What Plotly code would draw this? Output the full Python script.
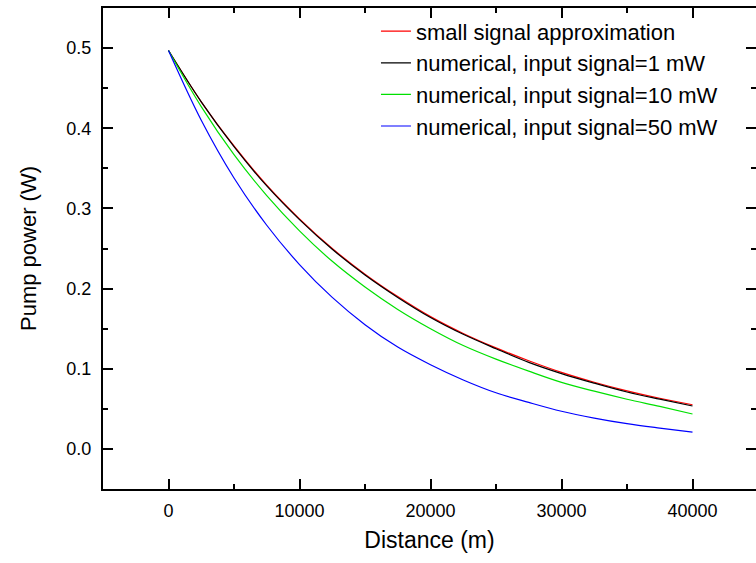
import plotly.graph_objects as go

distance_m = [0, 2500, 5000, 7500, 10000, 12500, 15000, 17500, 20000,
              22500, 25000, 27500, 30000, 32500, 35000, 37500, 40000]
small_signal = [0.497, 0.433, 0.378, 0.329, 0.287, 0.250, 0.218, 0.190, 0.165,
                0.144, 0.126, 0.110, 0.0955, 0.0832, 0.0725, 0.0632, 0.0551]
num_1mW = [0.497, 0.433, 0.377, 0.328, 0.286, 0.249, 0.217, 0.189, 0.164,
           0.143, 0.125, 0.108, 0.094, 0.082, 0.071, 0.062, 0.0535]
num_10mW = [0.497, 0.427, 0.367, 0.316, 0.272, 0.234, 0.202, 0.174, 0.150,
            0.129, 0.112, 0.097, 0.083, 0.072, 0.062, 0.053, 0.0436]
num_50mW = [0.497, 0.410, 0.338, 0.279, 0.230, 0.189, 0.155, 0.127, 0.105,
            0.086, 0.070, 0.058, 0.047, 0.0385, 0.0315, 0.026, 0.021]

names = ["small signal approximation", "numerical, input signal=1 mW",
         "numerical, input signal=10 mW", "numerical, input signal=50 mW"]
series = [small_signal, num_1mW, num_10mW, num_50mW]
colors = ["#FF0000", "#000000", "#00E000", "#0000FF"]

FONT = "Liberation Sans, Arial, sans-serif"

fig = go.Figure()
for nm, ys, c in zip(names, series, colors):
    fig.add_trace(go.Scatter(x=distance_m, y=ys, mode="lines", name=nm,
                             line=dict(color=c, width=1.2, shape="spline")))
# dummy trace for the right-hand tick axis
fig.add_trace(go.Scatter(x=[None], y=[None], yaxis="y2", showlegend=False,
                         hoverinfo="skip"))

axis_common = dict(ticks="inside", ticklen=10, tickwidth=1.5, tickcolor="black",
                   showgrid=False, zeroline=False,
                   tickfont=dict(family=FONT, size=18, color="black"))

fig.update_layout(
    width=756, height=563,
    margin=dict(l=103, r=0, t=8, b=74),
    paper_bgcolor="white", plot_bgcolor="white",
    font=dict(family=FONT, color="black"),
    showlegend=True,
    legend=dict(x=0.418, y=0.995, xanchor="left", yanchor="top",
                bgcolor="rgba(0,0,0,0)", borderwidth=0,
                font=dict(family=FONT, size=22, color="black"),
                tracegroupgap=0),
    xaxis=dict(range=[-5000, 44847], dtick=10000, tick0=0, tickformat="d",
               showline=True, linecolor="black", linewidth=2, mirror="ticks",
               minor=dict(dtick=5000, tick0=0, ticks="inside", ticklen=5,
                          tickwidth=1.5, tickcolor="black"),
               title=dict(text="Distance (m)", standoff=12,
                          font=dict(family=FONT, size=23, color="black")),
               ticklabelstandoff=4,
               **axis_common),
    yaxis=dict(range=[-0.05, 0.55], dtick=0.1, tick0=0, tickformat=".1f",
               showline=True, linecolor="black", linewidth=2,
               minor=dict(dtick=0.05, tick0=0, ticks="inside", ticklen=5,
                          tickwidth=1.5, tickcolor="black"),
               title=dict(text="Pump power (W)", standoff=24,
                          font=dict(family=FONT, size=22, color="black")),
               ticklabelstandoff=6,
               **axis_common),
    yaxis2=dict(range=[-0.05, 0.55], dtick=0.1, tick0=0, overlaying="y",
                side="right", showline=False, showticklabels=False,
                minor=dict(dtick=0.05, tick0=0, ticks="inside", ticklen=5,
                           tickwidth=1.5, tickcolor="black"),
                ticks="inside", ticklen=10, tickwidth=1.5, tickcolor="black",
                showgrid=False, zeroline=False),
)

fig.write_html("out.html")
